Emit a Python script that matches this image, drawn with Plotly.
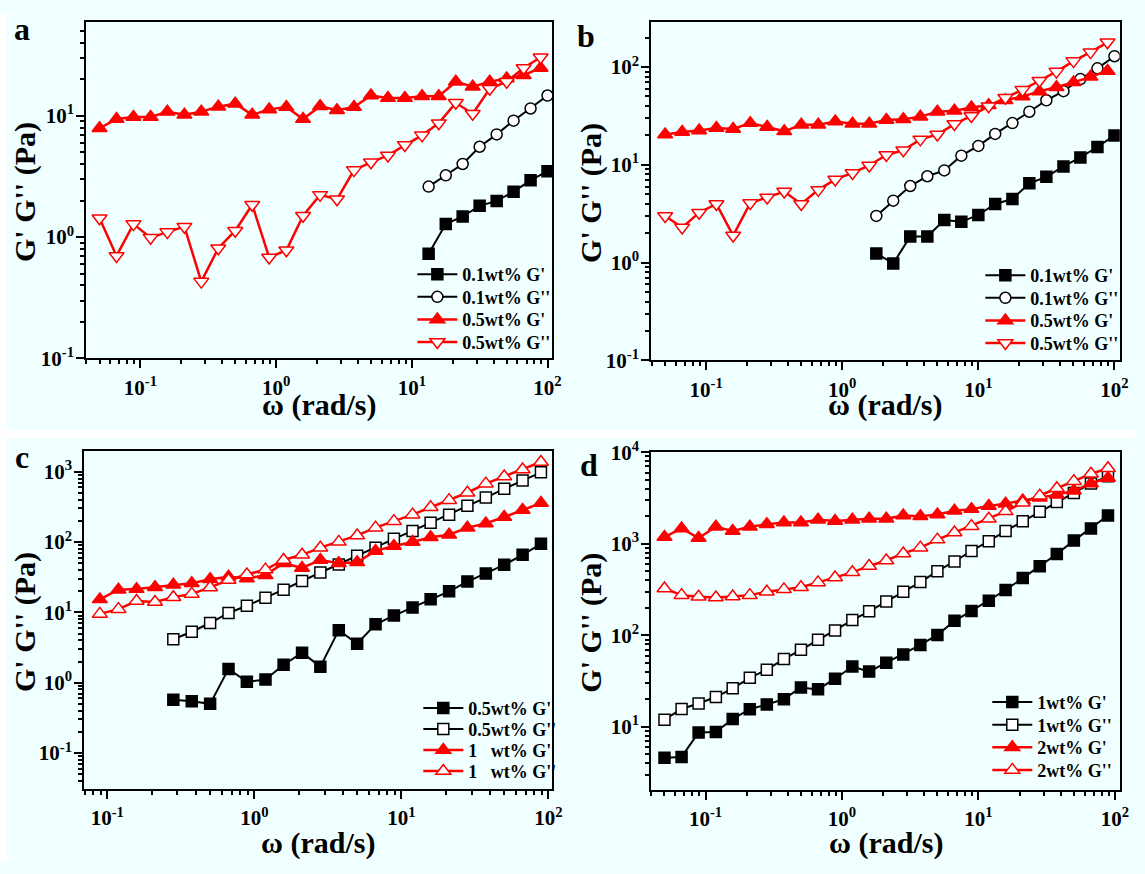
import plotly.graph_objects as go

# ---------------- data ----------------
# angular frequency grid (rad/s)
W = [0.05, 0.0667, 0.0889, 0.119, 0.158, 0.211, 0.281, 0.375, 0.5, 0.667, 0.889,
     1.19, 1.58, 2.11, 2.81, 3.75, 5.0, 6.67, 8.89, 11.9, 15.8, 21.1, 28.1, 37.5,
     50.0, 66.7, 88.9]
W_A_BLACK = [13.3, 17.8, 23.7, 31.6, 42.2, 56.2, 75.0, 100.0]
W_B_BLACK = [1.78, 2.37, 3.16, 4.22, 5.62, 7.5, 10.0, 13.3, 17.8, 23.7, 31.6,
             42.2, 56.2, 75.0, 100.0]
W_C_RED = W[2:]
W_C_BLACK = W[6:]

# panel a
A_G1_01 = [0.73, 1.28, 1.48, 1.81, 1.99, 2.37, 2.94, 3.5]
A_G2_01 = [2.61, 3.23, 4.01, 5.56, 7.03, 9.12, 11.5, 14.7]
A_G1_05 = [7.9, 9.4, 9.8, 9.8, 10.8, 10.2, 10.8, 11.9, 12.6, 10.2, 11.3, 11.8, 9.4,
           12.0, 11.1, 11.8, 14.7, 14.0, 14.0, 14.5, 14.5, 19.1, 17.4, 19.1, 20.3,
           21.6, 24.8]
A_G2_05 = [1.43, 0.70, 1.28, 0.99, 1.10, 1.22, 0.43, 0.81, 1.13, 1.85, 0.68, 0.78,
           1.50, 2.23, 2.05, 3.57, 4.14, 4.71, 5.74, 6.9, 8.7, 12.8, 10.4, 16.7,
           19.1, 24.8, 30.4]
# panel b
B_G1_01 = [1.24, 0.98, 1.85, 1.85, 2.73, 2.61, 3.07, 3.98, 4.47, 6.46, 7.53, 9.62,
           11.9, 15.2, 20.0]
B_G2_01 = [3.0, 4.3, 6.07, 7.64, 8.77, 12.4, 15.6, 20.7, 26.7, 34.9, 45.7, 56.6,
           75.3, 97.0, 129]
B_G1_05 = [20.4, 21.7, 22.4, 23.8, 23.3, 26.7, 24.4, 22.0, 25.7, 25.7, 27.7, 26.3,
           26.3, 28.8, 29.3, 31.1, 34.9, 35.8, 38.6, 40.7, 45.7, 50.1, 56.2, 62.1,
           69.7, 79.4, 91.2]
B_G2_05 = [3.0, 2.29, 3.24, 3.98, 1.89, 4.07, 4.64, 5.33, 3.98, 5.54, 7.08, 8.26,
           9.85, 12.6, 14.1, 18.2, 20.4, 26.1, 31.6, 39.8, 48.6, 58.4, 72.4, 89.8,
           115, 142, 179]
# panel c
C_G1_05 = [0.574, 0.545, 0.50, 1.57, 1.03, 1.11, 1.80, 2.66, 1.69, 5.58, 3.58, 6.76,
           9.0, 11.7, 15.3, 19.9, 27.4, 35.6, 47.4, 65.8, 94.4]
C_G2_05 = [4.15, 5.3, 7.05, 9.8, 12.4, 16.1, 21.0, 27.9, 36.8, 47.9, 63.8, 83.1,
           111, 144, 188, 245, 329, 429, 570, 751, 980]
C_G1_1 = [15.3, 21.0, 21.4, 22.8, 24.6, 25.9, 29.5, 32.1, 30.4, 33.8, 50.0, 42.7,
          55.6, 50.0, 51.6, 74.8, 87.7, 100, 117, 127, 160, 184, 227, 286, 358]
C_G2_1 = [9.5, 11.1, 14.5, 14.0, 16.4, 18.3, 22.6, 28.8, 34.5, 40.5, 55.6, 65.8,
          83.1, 100.5, 124, 160, 198, 245, 312, 394, 502, 676, 853, 1077, 1374]
# panel d
D_G1_1 = [4.6, 4.7, 8.7, 8.8, 12.2, 15.6, 17.6, 20.1, 27.0, 25.7, 33.6, 45.7, 40.2,
          50.3, 61.6, 78.5, 101, 144, 185, 239, 313, 422, 568, 773, 1084, 1473, 2036]
D_G2_1 = [12.0, 15.7, 18.0, 21.2, 26.4, 34.4, 42.2, 55.0, 69.5, 89.3, 113, 147, 183,
          234, 300, 382, 503, 641, 837, 1067, 1381, 1760, 2245, 2860, 3583, 4571, 5454]
D_G1_2 = [1185, 1473, 1157, 1534, 1381, 1534, 1637, 1706, 1706, 1834, 1775, 1834,
          1879, 1879, 2036, 2005, 2086, 2296, 2393, 2594, 2747, 2979, 3178, 3444,
          3794, 4571, 5236]
D_G2_2 = [325, 275, 264, 259, 266, 275, 300, 318, 336, 379, 428, 488, 573, 657, 785,
          908, 1111, 1327, 1560, 1879, 2262, 2810, 3358, 4046, 4834, 5817, 6678]

X_TICKS = [0.1, 1, 10, 100]
X_TICKTEXT = ["10<sup>-1</sup>", "10<sup>0</sup>", "10<sup>1</sup>", "10<sup>2</sup>"]
Y_TICKS_ALL = [0.1, 1, 10, 100, 1000, 10000]
Y_TICKTEXT_ALL = ["10<sup>-1</sup>", "10<sup>0</sup>", "10<sup>1</sup>",
                  "10<sup>2</sup>", "10<sup>3</sup>", "10<sup>4</sup>"]

SERIF = "Liberation Serif"
BG = "#F0FFFF"
RED = "#FF0000"
FW, FH = 1145, 874


def px_x(v):
    return v / FW


def px_y(v):
    return 1 - v / FH


fig = go.Figure()
legends = {}
# legend row geometry per panel: (legend left px, first row centre px, row step px)
LEG_POS = {"": (416, 268.5, 23.3), "2": (989, 269.5, 23.3),
           "3": (422, 715.5, 21.7), "4": (996, 709.5, 23.3)}
counter = [0]


def add(x, y, name, ax, row, color, symbol, filled, size, lw):
    counter[0] += 1
    lname = "legend" if counter[0] == 1 else "legend%d" % counter[0]
    lx, y0, step = LEG_POS[ax]
    legends[lname] = dict(
        x=px_x(lx), y=px_y(y0 + row * step), xanchor="left", yanchor="middle",
        bgcolor="rgba(0,0,0,0)", borderwidth=0, itemwidth=40,
        font=dict(family=SERIF, size=18, color="black", weight="bold"),
    )
    fig.add_trace(go.Scatter(
        x=x, y=y, name=name, mode="lines+markers",
        xaxis="x" + ax, yaxis="y" + ax, legend=lname,
        line=dict(color=color, width=lw),
        marker=dict(symbol=symbol, size=size,
                    color=color if filled else "white",
                    line=dict(color=color, width=1.5)),
    ))


# panel a
add(W_A_BLACK, A_G1_01, "0.1wt% G'", "", 0, "black", "square", True, 11, 2)
add(W_A_BLACK, A_G2_01, "0.1wt% G''", "", 1, "black", "circle", False, 11, 2)
add(W, A_G1_05, "0.5wt% G'", "", 2, RED, "triangle-up", True, 13, 2.5)
add(W, A_G2_05, "0.5wt% G''", "", 3, RED, "triangle-down", False, 13, 2.5)
# panel b
add(W_B_BLACK, B_G1_01, "0.1wt% G'", "2", 0, "black", "square", True, 11, 2)
add(W_B_BLACK, B_G2_01, "0.1wt% G''", "2", 1, "black", "circle", False, 11, 2)
add(W, B_G1_05, "0.5wt% G'", "2", 2, RED, "triangle-up", True, 13, 2.5)
add(W, B_G2_05, "0.5wt% G''", "2", 3, RED, "triangle-down", False, 13, 2.5)
# panel c
add(W_C_BLACK, C_G1_05, "0.5wt% G'", "3", 0, "black", "square", True, 11, 2)
add(W_C_BLACK, C_G2_05, "0.5wt% G''", "3", 1, "black", "square", False, 11, 2)
add(W_C_RED, C_G1_1, "1&nbsp;&nbsp;&nbsp;wt% G'", "3", 2, RED, "triangle-up", True, 13, 2.5)
add(W_C_RED, C_G2_1, "1&nbsp;&nbsp;&nbsp;wt% G''", "3", 3, RED, "triangle-up", False, 13, 2.5)
# panel d
add(W, D_G1_1, "1wt% G'", "4", 0, "black", "square", True, 11, 2)
add(W, D_G2_1, "1wt% G''", "4", 1, "black", "square", False, 11, 2)
add(W, D_G1_2, "2wt% G'", "4", 2, RED, "triangle-up", True, 13, 2.5)
add(W, D_G2_2, "2wt% G''", "4", 3, RED, "triangle-up", False, 13, 2.5)

MINOR = [m * 10.0 ** e for e in range(-3, 5) for m in range(2, 10)]


def axis_style(domain, rng, tickvals, ticktext, anchor, standoff):
    return dict(
        type="log", domain=domain, range=rng, anchor=anchor,
        showline=True, linecolor="black", linewidth=2, mirror=True,
        ticks="outside", ticklen=8, tickwidth=2, tickcolor="black",
        showgrid=False, zeroline=False,
        tickmode="array", tickvals=tickvals, ticktext=ticktext,
        ticklabelstandoff=standoff,
        tickfont=dict(family=SERIF, size=21, color="black", weight="bold"),
        minor=dict(tickmode="array", tickvals=MINOR, ticks="outside", ticklen=4,
                   tickwidth=1.5, tickcolor="black", showgrid=False),
    )


# pixel boxes of the four plot areas: left, right, top, bottom
BOX = {
    "": (87, 557, 8.3, 355),
    "2": (657, 1129.5, 8.3, 357),
    "3": (85, 557, 450.7, 799),
    "4": (657, 1130, 451.7, 799.3),
}
XR = {"": [-1.399, 2.034], "2": [-1.403, 2.038], "3": [-1.157, 2.025], "4": [-1.398, 2.038]}
YR = {"": [-1.0, 1.773], "2": [-1.0, 2.46], "3": [-1.515, 3.29], "4": [0.316, 4.0]}
YT = {"": (0, 3), "2": (0, 4), "3": (0, 5), "4": (2, 6)}

layout = dict(
    width=FW, height=FH, margin=dict(l=0, r=0, t=0, b=0),
    paper_bgcolor=BG, plot_bgcolor=BG, showlegend=True,
    font=dict(family=SERIF, color="black"),
)
for k, (l, r, t, b) in BOX.items():
    xd = [px_x(l), px_x(r)]
    yd = [px_y(b), px_y(t)]
    a, bb = YT[k]
    layout["xaxis" + k] = axis_style(xd, XR[k], X_TICKS, X_TICKTEXT, "y" + k, 1)
    layout["yaxis" + k] = axis_style(yd, YR[k], Y_TICKS_ALL[a:bb],
                                     Y_TICKTEXT_ALL[a:bb], "x" + k, -2)
layout.update(legends)
fig.update_layout(**layout)

# white separating strips of the original composite picture
fig.add_shape(type="rect", xref="paper", yref="paper", x0=0, x1=px_x(7), y0=0, y1=1,
              fillcolor="white", line=dict(width=0), layer="below")
fig.add_shape(type="rect", xref="paper", yref="paper", x0=0, x1=1,
              y0=px_y(437), y1=px_y(429), fillcolor="white", line=dict(width=0),
              layer="below")

TITLE_FONT = dict(family=SERIF, size=30, color="black", weight="bold")
ann = []
for k, (l, r, t, b) in BOX.items():
    cx = (l + r) / 2
    xt_y = 403 if k in ("", "2") else 854
    ann.append(dict(text="ω (rad/s)", x=px_x(cx), y=px_y(xt_y), xref="paper",
                    yref="paper", xanchor="center", yanchor="middle",
                    showarrow=False, font=TITLE_FONT))
    yt_x = 25 if k in ("", "3") else 596
    ann.append(dict(text="G' G'' (Pa)", x=px_x(yt_x), y=px_y((t + b) / 2 + 2),
                    xref="paper", yref="paper", xanchor="center", yanchor="middle",
                    textangle=-90, showarrow=False, font=TITLE_FONT))
for lab, (x0, y0) in {"a": (22, 15), "b": (591, 23), "c": (22, 457), "d": (594, 465)}.items():
    ann.append(dict(text=lab, x=px_x(x0), y=px_y(y0), xref="paper", yref="paper",
                    xanchor="center", yanchor="middle", showarrow=False,
                    font=dict(family=SERIF, size=32, color="black", weight="bold")))
fig.update_layout(annotations=ann)

fig.write_html("out.html")
